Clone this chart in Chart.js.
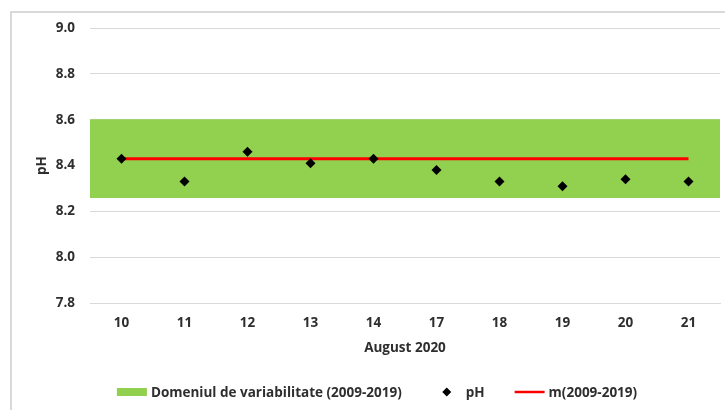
<!DOCTYPE html>
<html>
<head>
<meta charset="utf-8">
<script src="https://cdn.jsdelivr.net/npm/chart.js@4.4.1/dist/chart.umd.min.js"></script>
<style>
  html, body { margin: 0; padding: 0; background: #fff; }
  #wrap { position: relative; width: 725px; height: 410px; overflow: hidden; }
  #frame { position: absolute; left: 10px; top: 11px; width: 760px; height: 420px; border-left: 2px solid #D9D9D9; border-top: 2px solid #D9D9D9; box-sizing: border-box; }
  canvas { position: absolute; left: 0; top: 0; }
</style>
</head>
<body>
<div id="wrap">
  <div id="frame"></div>
  <canvas id="c" width="725" height="410"></canvas>
</div>
<script>
// ---- data ----
const days = ['10', '11', '12', '13', '14', '17', '18', '19', '20', '21'];
const phValues = [8.43, 8.33, 8.46, 8.41, 8.43, 8.38, 8.33, 8.31, 8.34, 8.33];
const meanValue = [8.43, 8.43, 8.43, 8.43, 8.43, 8.43, 8.43, 8.43, 8.43, 8.43];
const rangeLow = [8.26, 8.26, 8.26, 8.26, 8.26, 8.26, 8.26, 8.26, 8.26, 8.26];
const rangeHigh = [8.6, 8.6, 8.6, 8.6, 8.6, 8.6, 8.6, 8.6, 8.6, 8.6];
const yTicks = [7.8, 8.0, 8.2, 8.4, 8.6, 8.8, 9.0];
const seriesNames = ['Domeniul de variabilitate (2009-2019)', 'pH', 'm(2009-2019)'];
const xTitle = 'August 2020';
const yTitle = 'pH';

const FONT = '"Open Sans", Lato, "Liberation Sans", sans-serif';
const FS = 13.5;
const TXT = '#2E2E2E';
const GREEN = '#92D050';
const RED = '#FF0000';

const legendPlugin = {
  id: 'customLegend',
  afterDraw(chart) {
    const ctx = chart.ctx;
    ctx.save();
    ctx.font = 'bold ' + FS + 'px ' + FONT;
    ctx.textBaseline = 'middle';
    ctx.fillStyle = TXT;
    const boxW = 30, gapText = 4, gapItem = 30;
    const widths = seriesNames.map(n => boxW + gapText + ctx.measureText(n).width);
    const total = widths.reduce((a, b) => a + b, 0) + gapItem * (widths.length - 1);
    let x = 377 - total / 2;
    const y = 392;
    seriesNames.forEach((name, i) => {
      if (i === 0) {
        ctx.fillStyle = GREEN;
        ctx.fillRect(x, y - 4, boxW, 8);
      } else if (i === 1) {
        ctx.fillStyle = '#000';
        const cx = x + boxW / 2, r = 4.5;
        ctx.beginPath();
        ctx.moveTo(cx, y - r); ctx.lineTo(cx + r, y); ctx.lineTo(cx, y + r); ctx.lineTo(cx - r, y);
        ctx.closePath(); ctx.fill();
      } else {
        ctx.strokeStyle = RED; ctx.lineWidth = 2.5;
        ctx.beginPath(); ctx.moveTo(x, y); ctx.lineTo(x + boxW, y); ctx.stroke();
      }
      ctx.fillStyle = TXT;
      ctx.textAlign = 'left';
      ctx.fillText(name, x + boxW + gapText, y + 1);
      x += widths[i] + gapItem;
    });
    ctx.restore();
  }
};

new Chart(document.getElementById('c'), {
  data: {
    labels: days,
    datasets: [
      {
        type: 'line',
        label: seriesNames[1],
        data: phValues,
        showLine: false,
        pointStyle: 'rectRot',
        pointRadius: 5,
        pointBackgroundColor: '#000',
        pointBorderColor: '#000',
        pointBorderWidth: 0,
        order: 1
      },
      {
        type: 'line',
        label: seriesNames[2],
        data: meanValue,
        borderColor: RED,
        borderWidth: 3,
        pointRadius: 0,
        fill: false,
        order: 2
      },
      {
        type: 'bar',
        label: seriesNames[0],
        data: rangeLow.map((v, i) => [v, rangeHigh[i]]),
        backgroundColor: GREEN,
        borderWidth: 0,
        barPercentage: 1,
        categoryPercentage: 1,
        order: 3
      }
    ]
  },
  options: {
    responsive: false,
    animation: false,
    events: [],
    layout: { padding: { left: 10, top: 28, right: 4, bottom: 54 } },
    plugins: { legend: { display: false }, tooltip: { enabled: false } },
    scales: {
      x: {
        offset: true,
        grid: { display: false, drawTicks: false },
        border: { display: true, color: '#D9D9D9', width: 1 },
        ticks: { color: TXT, font: { family: FONT, size: FS, weight: 'bold' }, padding: 12, maxRotation: 0 },
        title: { display: true, text: xTitle, color: TXT, font: { family: FONT, size: FS, weight: 'bold' }, padding: { top: 0, bottom: 0 } },
        afterFit(scale) { scale.height = 53; }
      },
      y: {
        min: 7.8,
        max: 9.0,
        afterBuildTicks(scale) { scale.ticks = yTicks.map(v => ({ value: v })); },
        grid: { color: '#D9D9D9', lineWidth: 1, drawTicks: false },
        border: { display: false },
        ticks: { color: TXT, font: { family: FONT, size: FS, weight: 'bold' }, padding: 15, callback: v => Number(v).toFixed(1) },
        title: { display: true, text: yTitle, color: TXT, font: { family: FONT, size: FS, weight: 'bold' }, padding: { top: 24, bottom: 0 } },
        afterFit(scale) { scale.width = 80; }
      }
    }
  },
  plugins: [legendPlugin]
});
</script>
</body>
</html>
